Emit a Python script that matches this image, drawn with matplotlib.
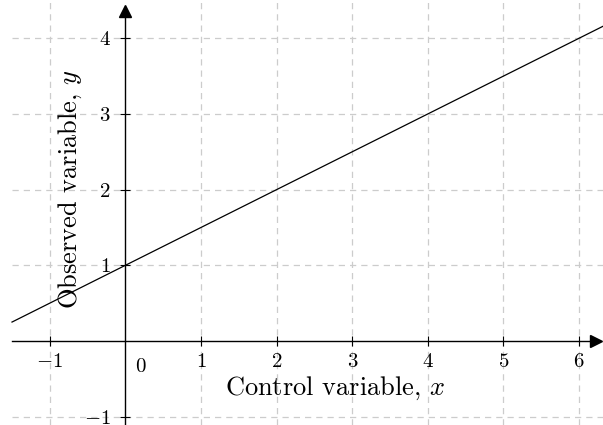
import numpy as np
import matplotlib
matplotlib.use("Agg")
import matplotlib.pyplot as plt

plt.rcParams["font.family"] = "serif"
plt.rcParams["font.serif"] = ["cmr10"]
plt.rcParams["mathtext.fontset"] = "cm"
plt.rcParams["axes.formatter.use_mathtext"] = True

# data
x_ticks = [-1, 1, 2, 3, 4, 5, 6]
y_ticks = [-1, 1, 2, 3, 4]
slope, intercept = 0.5, 1.0
x_line = np.array([-1.5, 6.32])
y_line = slope * x_line + intercept

xmin, xmax = -1.5, 6.316
ymin, ymax = -1.11, 4.505

fig = plt.figure(figsize=(6.03, 4.25), dpi=100)
ax = fig.add_axes([12 / 603, 0, 591 / 603, 1])
ax.set_xlim(xmin, xmax)
ax.set_ylim(ymin, ymax)

# grid
ax.grid(True, color="#cccccc", linestyle=(0, (5, 4)), linewidth=0.9)

ax.plot(x_line, y_line, color="black", linewidth=0.9, clip_on=False)

# axes through the origin
for s in ["top", "right"]:
    ax.spines[s].set_visible(False)
ax.spines["left"].set_position(("data", 0))
ax.spines["bottom"].set_position(("data", 0))
ax.spines["left"].set_linewidth(1.0)
ax.spines["bottom"].set_linewidth(1.0)
ax.spines["left"].set_bounds(ymin, 4.3)
ax.spines["bottom"].set_bounds(xmin, 6.15)

# arrow heads
ax.plot(6.22, 0, marker=">", color="black", markersize=9, clip_on=False)
ax.plot(0, 4.36, marker="^", color="black", markersize=9, clip_on=False)

ax.set_xticks(x_ticks)
ax.set_yticks(y_ticks)
ax.tick_params(direction="inout", length=7, width=0.8, labelsize=15)
ax.tick_params(axis="x", pad=5)
ax.tick_params(axis="y", pad=7)

ax.text(0.2, -0.22, "0", fontsize=15, ha="center", va="top")

ax.text(2.77, -0.63, "Control variable, $x$", fontsize=19, ha="center", va="center")
ax.text(-0.73, 2.0, "Observed variable, $y$", fontsize=19, ha="center", va="center",
        rotation=90)

fig.savefig("out.png", dpi=100)
